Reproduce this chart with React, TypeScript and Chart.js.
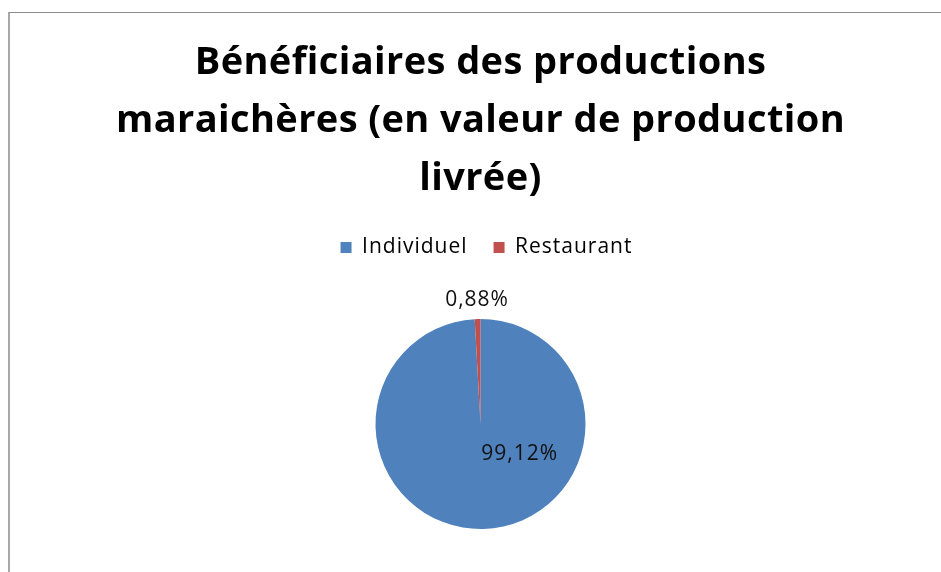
import { useEffect, useRef } from "react";
import { Chart, registerables } from "chart.js";

Chart.register(...registerables);

const titleLines = [
  "Bénéficiaires des productions",
  "maraichères (en valeur de production",
  "livrée)",
];
const categories = ["Individuel", "Restaurant"];
const values = [99.12, 0.88];
const valueLabels = ["99,12%", "0,88%"];
const colors = ["#4F81BD", "#C0504D"];

const FONT = "'Open Sans', Lato, sans-serif";
const TEXT_SPACING = "1px";
const TITLE_SPACING = "0.4px";

const spacing = {
  id: "letterSpacing",
  beforeUpdate(chart: any) {
    chart.ctx.letterSpacing = TEXT_SPACING;
    const tb = chart.titleBlock;
    if (tb && !tb.__patched) {
      const orig = tb.draw.bind(tb);
      tb.draw = function (area: any) {
        const c = chart.ctx;
        const prev = c.letterSpacing;
        c.letterSpacing = TITLE_SPACING;
        orig(area);
        c.letterSpacing = prev;
      };
      tb.__patched = true;
    }
  },
  afterLayout(chart: any) {
    const lg = chart.legend;
    if (lg) {
      lg.left += 6;
      lg.right += 6;
    }
  },
  beforeDraw(chart: any) {
    chart.ctx.letterSpacing = TEXT_SPACING;
  },
};

const sliceLabels = {
  id: "sliceLabels",
  afterDatasetsDraw(chart: any) {
    const meta = chart.getDatasetMeta(0);
    const ctx = chart.ctx;
    ctx.save();
    ctx.letterSpacing = TEXT_SPACING;
    ctx.font = `21px ${FONT}`;
    ctx.fillStyle = "#111";
    ctx.textAlign = "center";
    ctx.textBaseline = "middle";
    meta.data.forEach((arc: any, i: number) => {
      const { x, y, startAngle, endAngle, outerRadius } = arc.getProps(
        ["x", "y", "startAngle", "endAngle", "outerRadius"],
        true
      );
      const mid = (startAngle + endAngle) / 2;
      let px: number;
      let py: number;
      if (values[i] < 5) {
        const r = outerRadius + 19;
        px = x + Math.cos(mid) * r;
        py = y + Math.sin(mid) * r;
      } else {
        const a = 0.656;
        const r = outerRadius * 0.47;
        px = x + Math.cos(a) * r;
        py = y + Math.sin(a) * r;
      }
      ctx.fillText(valueLabels[i], px, py);
    });
    ctx.restore();
  },
};

export default function App() {
  const ref = useRef<HTMLCanvasElement | null>(null);

  useEffect(() => {
    if (!ref.current) return;
    const chart = new Chart(ref.current, {
      type: "pie",
      data: {
        labels: categories,
        datasets: [
          {
            data: values,
            backgroundColor: colors,
            borderWidth: 0,
            radius: 105,
          },
        ],
      },
      options: {
        responsive: false,
        animation: false,
        layout: { padding: { left: 20, right: 0, top: 0, bottom: 20 } },
        plugins: {
          title: {
            display: true,
            text: titleLines,
            color: "#000",
            font: { family: FONT, size: 38, weight: "bold", lineHeight: 1.5263 },
            padding: { top: 34, bottom: 3 },
          },
          legend: {
            display: true,
            position: "top",
            labels: {
              color: "#000",
              font: { family: FONT, size: 21 },
              boxWidth: 11,
              boxHeight: 11,
              padding: 26,
            },
          },
          tooltip: { enabled: false },
        },
      },
      plugins: [spacing, sliceLabels],
    });
    return () => chart.destroy();
  }, []);

  return (
    <div
      style={{
        position: "fixed",
        left: 0,
        top: 0,
        width: 941,
        height: 572,
        overflow: "hidden",
        background: "#fff",
      }}
    >
      <div
        style={{
          position: "absolute",
          left: 8,
          top: 12,
          right: -4,
          bottom: -4,
          borderTop: "1px solid #8c8c8c",
          borderLeft: "2px solid #a8a8a8",
        }}
      />
      <canvas
        ref={ref}
        width={941}
        height={600}
        style={{ position: "absolute", left: 0, top: 0, width: 941, height: 600 }}
      />
    </div>
  );
}
